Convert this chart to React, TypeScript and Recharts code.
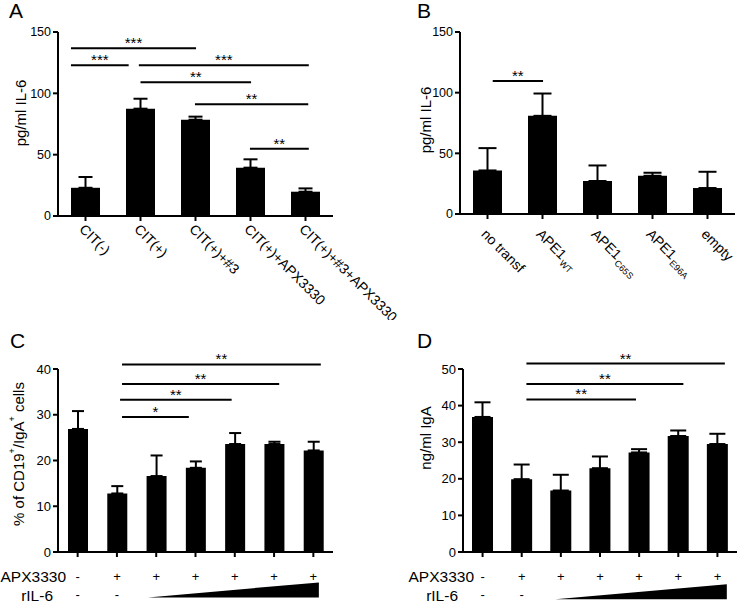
import React from 'react';
import { BarChart, Bar, XAxis, YAxis, ErrorBar, ReferenceLine, ReferenceArea } from 'recharts';

const FONT = '"Liberation Sans", Arial, Helvetica, sans-serif';

// ---------- Panel A ----------
const groupsA = ['CIT(-)', 'CIT(+)', 'CIT(+)+#3', 'CIT(+)+APX3330', 'CIT(+)+#3+APX3330'];
const meanA = [23, 87.5, 78.5, 39.4, 19.8];
const semA = [8.8, 8.1, 2.5, 6.8, 2.7];
const ticksA = [0, 50, 100, 150];
// significance brackets (x in category units, 0..n)
const sigA = [
  { x1: 0.236, x2: 2.51, y: 136.7, label: '***' },
  { x1: 0.236, x2: 1.285, y: 122.8, label: '***' },
  { x1: 1.47, x2: 4.56, y: 122.8, label: '***' },
  { x1: 1.5, x2: 3.51, y: 109, label: '**' },
  { x1: 2.49, x2: 4.55, y: 91, label: '**' },
  { x1: 3.49, x2: 4.56, y: 54.8, label: '**' },
];

// ---------- Panel B ----------
const groupsB = ['no transf', 'APE1 WT', 'APE1 C65S', 'APE1 E96A', 'empty'];
const baseB = ['no transf', 'APE1', 'APE1', 'APE1', 'empty'];
const subB = ['', 'WT', 'C65S', 'E96A', ''];
const meanB = [35.9, 80.9, 27.2, 31.5, 21.4];
const semB = [18.4, 18.4, 12.8, 2.5, 13.4];
const ticksB = [0, 50, 100, 150];
const sigB = [{ x1: 0.595, x2: 1.51, y: 109.7, label: '**' }];

// ---------- Panel C ----------
const groupsC = ['c1', 'c2', 'c3', 'c4', 'c5', 'c6', 'c7'];
const apxC = ['-', '+', '+', '+', '+', '+', '+'];
const ril6C = ['-', '-', '', '', '', '', ''];
const meanC = [26.9, 12.8, 16.6, 18.4, 23.6, 23.6, 22.2];
const semC = [3.9, 1.6, 4.5, 1.4, 2.4, 0.5, 1.9];
const ticksC = [0, 10, 20, 30, 40];
const sigC = [
  { x1: 1.63, x2: 6.69, y: 41.0, label: '**' },
  { x1: 1.63, x2: 5.63, y: 36.7, label: '**' },
  { x1: 1.58, x2: 4.42, y: 33.3, label: '**' },
  { x1: 1.63, x2: 3.33, y: 29.5, label: '*' },
];
const wedgeC = { x1: 2.29, x2: 6.64, yBottom: -9.93, yTop: -6.65 };

// ---------- Panel D ----------
const groupsD = ['d1', 'd2', 'd3', 'd4', 'd5', 'd6', 'd7'];
const apxD = ['-', '+', '+', '+', '+', '+', '+'];
const ril6D = ['-', '-', '', '', '', '', ''];
const meanD = [36.9, 19.9, 16.8, 22.9, 27.2, 31.7, 29.5];
const semD = [4.0, 4.0, 4.3, 3.2, 0.9, 1.5, 2.8];
const ticksD = [0, 10, 20, 30, 40, 50];
const sigD = [
  { x1: 1.62, x2: 6.69, y: 51.5, label: '**' },
  { x1: 1.62, x2: 5.63, y: 45.9, label: '**' },
  { x1: 1.62, x2: 4.42, y: 41.7, label: '**' },
];
const wedgeD = { x1: 2.36, x2: 6.74, yBottom: -12.9, yTop: -8.8 };

type Sig = { x1: number; x2: number; y: number; label: string };

function build(groups: string[], means: number[], sems: number[]) {
  return groups.map((g, i) => ({ name: g, pos: i + 0.5, value: means[i], err: [0, sems[i]] }));
}

const RotTick = (props: any) => {
  const { x, y, payload, groups, base, subs, dy } = props;
  const i = groups.indexOf(payload.value);
  const x0 = x - 7;
  const y0 = y + dy;
  return (
    <text
      x={x0}
      y={y0}
      transform={`rotate(45, ${x0}, ${y0})`}
      textAnchor="start"
      fontSize={14}
      fontFamily={FONT}
      fill="#000"
    >
      {base ? base[i] : payload.value}
      {subs && subs[i] ? (
        <tspan fontSize={9} dy={4} dx={1}>
          {subs[i]}
        </tspan>
      ) : null}
    </text>
  );
};

const SignTick = (props: any) => {
  const { x, y, payload, groups, apx, ril } = props;
  const i = groups.indexOf(payload.value);
  return (
    <g>
      <text x={x} y={y + 17} textAnchor="middle" dominantBaseline="central" fontSize={13} fontFamily={FONT} fill="#000">
        {apx[i]}
      </text>
      <text x={x} y={y + 35} textAnchor="middle" dominantBaseline="central" fontSize={13} fontFamily={FONT} fill="#000">
        {ril[i]}
      </text>
    </g>
  );
};

const Wedge = (props: any) => {
  const { x, y, width, height } = props;
  const pts = `${x},${y + height} ${x + width},${y + height} ${x + width},${y}`;
  return <polygon points={pts} fill="#000" />;
};

type PanelProps = {
  left: number;
  top: number;
  width: number;
  height: number;
  marginTop: number;
  marginRight: number;
  yWidth: number;
  xHeight: number;
  data: any[];
  n: number;
  domain: [number, number];
  ticks: number[];
  barSize: number;
  capWidth: number;
  sigs: Sig[];
  tick: React.ReactElement;
  tickFont: number;
  wedge?: { x1: number; x2: number; yBottom: number; yTop: number };
};

function Panel(p: PanelProps) {
  return (
    <div style={{ position: 'absolute', left: p.left, top: p.top, width: p.width, height: p.height }}>
      <BarChart
        width={p.width}
        height={p.height}
        data={p.data}
        margin={{ top: p.marginTop, right: p.marginRight, left: 0, bottom: 0 }}
        barCategoryGap={0}
      >
        <XAxis
          dataKey="name"
          height={p.xHeight}
          axisLine={{ stroke: '#000', strokeWidth: 2 }}
          tickLine={{ stroke: '#000', strokeWidth: 2 }}
          tickSize={5}
          tickMargin={2}
          interval={0}
          tick={p.tick}
        />
        <XAxis xAxisId="n" dataKey="pos" type="number" domain={[0, p.n]} allowDataOverflow hide />
        <YAxis
          width={p.yWidth}
          domain={p.domain}
          ticks={p.ticks}
          interval={0}
          allowDataOverflow
          axisLine={{ stroke: '#000', strokeWidth: 2 }}
          tickLine={{ stroke: '#000', strokeWidth: 2 }}
          tickSize={5}
          tickMargin={2}
          tick={{ fill: '#000', fontSize: p.tickFont, fontFamily: FONT }}
        />
        <Bar dataKey="value" fill="#000" barSize={p.barSize} isAnimationActive={false}>
          <ErrorBar dataKey="err" direction="y" width={p.capWidth} stroke="#000" strokeWidth={2} isAnimationActive={false} />
        </Bar>
        {p.sigs.map((s, i) => (
          <ReferenceLine
            key={i}
            xAxisId="n"
            segment={[
              { x: s.x1, y: s.y },
              { x: s.x2, y: s.y },
            ]}
            stroke="#000"
            strokeWidth={2}
            ifOverflow="visible"
            label={{ value: s.label, position: 'top', offset: 0, fontSize: 15, fill: '#000', fontFamily: FONT }}
          />
        ))}
        {p.wedge ? (
          <ReferenceArea
            xAxisId="n"
            x1={p.wedge.x1}
            x2={p.wedge.x2}
            y1={p.wedge.yBottom}
            y2={p.wedge.yTop}
            ifOverflow="visible"
            shape={<Wedge />}
          />
        ) : null}
      </BarChart>
    </div>
  );
}

export default function App() {
  const t = { fontFamily: FONT, fill: '#000' };
  return (
    <div style={{ position: 'absolute', left: 0, top: 0, width: 745, height: 602, background: '#fff', overflow: 'hidden' }}>
      <Panel
        left={0}
        top={0}
        width={400}
        height={320}
        marginTop={32}
        marginRight={67}
        yWidth={58}
        xHeight={104}
        data={build(groupsA, meanA, semA)}
        n={5}
        domain={[0, 150]}
        ticks={ticksA}
        barSize={29}
        capWidth={7}
        sigs={sigA}
        tickFont={12.5}
        tick={<RotTick groups={groupsA} dy={7} />}
      />
      <Panel
        left={380}
        top={0}
        width={365}
        height={320}
        marginTop={32}
        marginRight={10}
        yWidth={80}
        xHeight={106}
        data={build(groupsB, meanB, semB)}
        n={5}
        domain={[0, 150]}
        ticks={ticksB}
        barSize={29}
        capWidth={9}
        sigs={sigB}
        tickFont={12.5}
        tick={<RotTick groups={groupsB} base={baseB} subs={subB} dy={14} />}
      />
      <Panel
        left={0}
        top={300}
        width={372}
        height={302}
        marginTop={69}
        marginRight={39}
        yWidth={58}
        xHeight={50}
        data={build(groupsC, meanC, semC)}
        n={7}
        domain={[0, 40]}
        ticks={ticksC}
        barSize={20}
        capWidth={6}
        sigs={sigC}
        tickFont={13}
        tick={<SignTick groups={groupsC} apx={apxC} ril={ril6C} />}
        wedge={wedgeC}
      />
      <Panel
        left={380}
        top={300}
        width={365}
        height={302}
        marginTop={69}
        marginRight={8}
        yWidth={83}
        xHeight={50}
        data={build(groupsD, meanD, semD)}
        n={7}
        domain={[0, 50]}
        ticks={ticksD}
        barSize={21}
        capWidth={8}
        sigs={sigD}
        tickFont={13}
        tick={<SignTick groups={groupsD} apx={apxD} ril={ril6D} />}
        wedge={wedgeD}
      />
      <svg
        width={745}
        height={602}
        style={{ position: 'absolute', left: 0, top: 0, pointerEvents: 'none' }}
      >
        <text x={9} y={18} fontSize={21} {...t}>A</text>
        <text x={417} y={18} fontSize={21} {...t}>B</text>
        <text x={10} y={348} fontSize={21} {...t}>C</text>
        <text x={417} y={348} fontSize={21} {...t}>D</text>

        <text transform="translate(20,113) rotate(-90)" textAnchor="middle" dominantBaseline="central" fontSize={15} {...t}>
          pg/ml IL-6
        </text>
        <text transform="translate(425,120) rotate(-90)" textAnchor="middle" dominantBaseline="central" fontSize={15} {...t}>
          pg/ml IL-6
        </text>
        <text transform="translate(18,454) rotate(-90)" textAnchor="middle" dominantBaseline="central" fontSize={15} {...t}>
          % of CD19<tspan fontSize={9} dy={-6}>+</tspan>
          <tspan dy={6}>/IgA</tspan>
          <tspan fontSize={9} dy={-6}>+</tspan>
          <tspan dy={6}> cells</tspan>
        </text>
        <text transform="translate(425,438) rotate(-90)" textAnchor="middle" dominantBaseline="central" fontSize={15} {...t}>
          ng/ml IgA
        </text>

        <text x={66} y={576} textAnchor="end" dominantBaseline="central" fontSize={15.5} {...t}>APX3330</text>
        <text x={53} y={595} textAnchor="end" dominantBaseline="central" fontSize={15.5} {...t}>rIL-6</text>
        <text x={474} y={576} textAnchor="end" dominantBaseline="central" fontSize={15.5} {...t}>APX3330</text>
        <text x={458} y={595} textAnchor="end" dominantBaseline="central" fontSize={15.5} {...t}>rIL-6</text>
      </svg>
    </div>
  );
}
